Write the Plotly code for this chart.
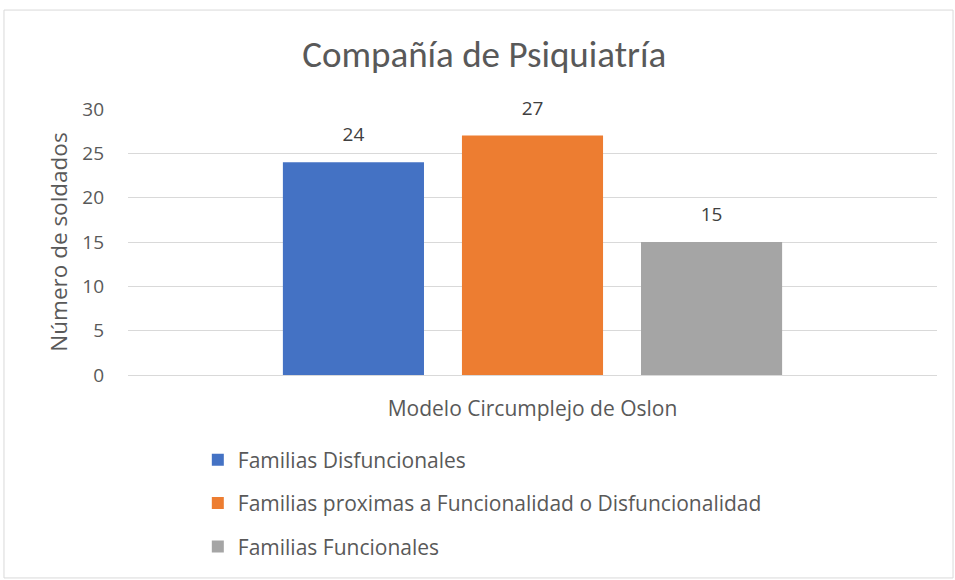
import plotly.graph_objects as go

category = ["Modelo Circumplejo de Oslon"]
series_names = [
    "Familias Disfuncionales",
    "Familias proximas a Funcionalidad o Disfuncionalidad",
    "Familias Funcionales",
]
series_values = [[24], [27], [15]]
series_colors = ["#4472C4", "#ED7D31", "#A5A5A5"]
y_ticks = [0, 5, 10, 15, 20, 25, 30]

TITLE_FONT = "Carlito, Calibri, 'Open Sans', sans-serif"
FONT = "'Open Sans', 'Segoe UI', sans-serif"

fig = go.Figure()
for i, (name, vals, col) in enumerate(zip(series_names, series_values, series_colors)):
    fig.add_trace(go.Bar(
        x=category, y=vals, name=name, marker=dict(color=col, line=dict(width=0)),
        legendgroup=f"g{i}", offsetgroup=f"o{i}", hoverinfo="y",
    ))
# value labels above the bars (grouped to the same slots as the bars)
for i, vals in enumerate(series_values):
    fig.add_trace(go.Scatter(
        x=category, y=vals, mode="markers+text", text=[str(v) for v in vals],
        textposition="top center", marker=dict(size=24, opacity=0),
        textfont=dict(family=FONT, size=19, color="#404040"),
        showlegend=False, hoverinfo="skip", cliponaxis=False, offsetgroup=f"o{i}",
    ))

fig.update_layout(
    width=955, height=580,
    margin=dict(l=128, r=18, t=109, b=205),
    paper_bgcolor="white", plot_bgcolor="white",
    barmode="group", bargap=0.336, bargroupgap=0.212,
    scattermode="group", scattergap=0.336,
    font=dict(family=FONT, color="#595959"),
    title=dict(text="Compañía de Psiquiatría", x=0.507, xanchor="center",
               y=0.907, yanchor="middle",
               font=dict(family=TITLE_FONT, size=37, color="#595959")),
    showlegend=True,
    legend=dict(orientation="v", x=0.0863, xanchor="left", y=-0.243, yanchor="top",
                font=dict(family=FONT, size=21, color="#595959"),
                tracegroupgap=13, itemclick=False, bgcolor="rgba(0,0,0,0)"),
    shapes=[dict(type="rect", xref="paper", yref="paper",
                 x0=-0.1533, x1=1.0198, y0=-0.763, y1=1.372,
                 line=dict(color="#D9D9D9", width=1), fillcolor="rgba(0,0,0,0)",
                 layer="below")],
)
fig.update_yaxes(range=[0, 30], tickvals=y_ticks, showgrid=True, gridcolor="#D9D9D9",
                 gridwidth=1, zeroline=False, showline=False, ticks="",
                 tickfont=dict(family=FONT, size=19, color="#595959"), ticklabelstandoff=23,
                 title=dict(text="Número de soldados", standoff=8,
                            font=dict(family=FONT, size=22.5, color="#595959")))
fig.update_xaxes(showline=True, linecolor="#D9D9D9", linewidth=1, ticks="",
                 ticklabelstandoff=15,
                 tickfont=dict(family=FONT, size=21, color="#595959"))

fig.write_html("out.html", config={"displayModeBar": False},
               post_script="document.body.style.margin='0';")
